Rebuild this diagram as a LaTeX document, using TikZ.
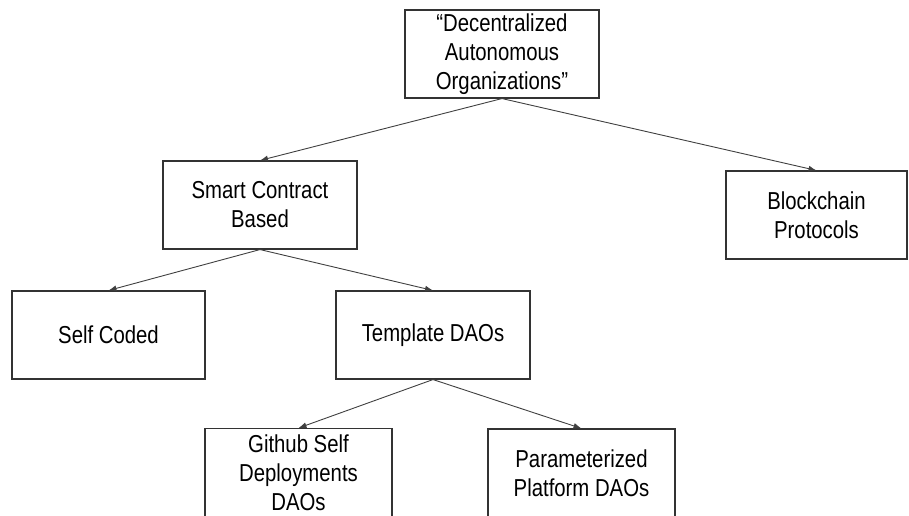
\documentclass[tikz,border=0pt]{standalone}
\usepackage{fontspec}
\setmainfont{Liberation Sans}[FakeStretch=0.83]
\colorlet{BoxLine}{black!80}
\colorlet{ArrowLine}{black!75}
\usetikzlibrary{arrows.meta}
\tikzset{
    daobox/.style = {draw=BoxLine, line width=1.1pt, minimum width=194pt, minimum height=88pt,
        inner sep=0pt, align=center, font=\fontsize{24.5}{29}\selectfont},
    branch/.style = {draw=ArrowLine, line width=0.9pt, -{Latex[length=8pt,width=6pt]}},
}

\begin{document}
\begin{tikzpicture}[x=1pt, y=-1pt]

    \clip (0,0) rectangle (909,515);
    \useasboundingbox (0,0) rectangle (909,515);

    \coordinate (R) at (502,54);
    \coordinate (S) at (260,205);
    \coordinate (B) at (816.5,215);
    \coordinate (C) at (108.5,335);
    \coordinate (T) at (433,335);
    \coordinate (G) at (298.5,428);
    \coordinate (P) at (581.5,473);

    \node [daobox] (root) at (R) {``Decentralized\\Autonomous\\Organizations''};
    \node [daobox] (smart) at (S) {Smart Contract\\Based};
    \node [daobox, minimum width=181pt] (chain) at (B) {Blockchain\\Protocols};
    \node [daobox, minimum width=193pt] (selfcoded) at (C) {Self Coded};
    \node [daobox] (template) at (T) {Template DAOs};
    \node [daobox, minimum width=187pt, minimum height=0pt, inner ysep=6pt, anchor=north] (github) at (G) {Github Self\\Deployments\\DAOs};
    \node [daobox, minimum width=187pt] (param) at (P) {Parameterized\\Platform DAOs};

    \draw [branch] (root.south) -- (smart.north);
    \draw [branch] (root.south) -- (chain.north);
    \draw [branch] (smart.south) -- (selfcoded.north);
    \draw [branch] (smart.south) -- (template.north);
    \draw [branch] (template.south) -- (github.north);
    \draw [branch] (template.south) -- (param.north);

\end{tikzpicture}
\end{document}
